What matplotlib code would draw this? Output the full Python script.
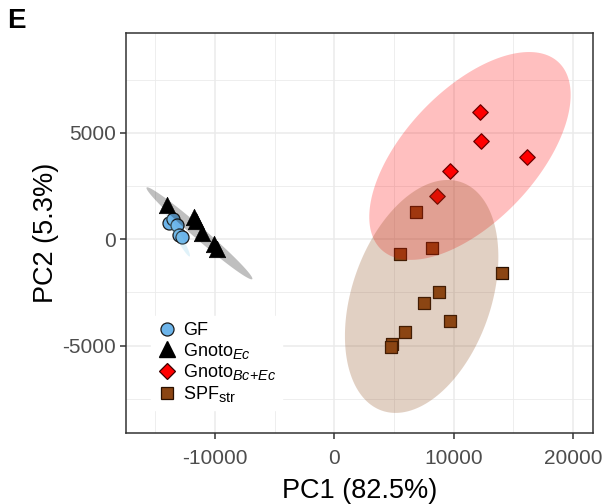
import numpy as np
import matplotlib
matplotlib.use("Agg")
import matplotlib.pyplot as plt
import matplotlib._mathtext as mt
from matplotlib.lines import Line2D

plt.rcParams['font.family'] = ['Liberation Sans', 'DejaVu Sans']
plt.rcParams['mathtext.fontset'] = 'custom'
plt.rcParams['mathtext.rm'] = 'Liberation Sans'
plt.rcParams['mathtext.it'] = 'Liberation Sans:italic'
plt.rcParams['axes.unicode_minus'] = False
mt.SHRINK_FACTOR = 0.8  # slightly bigger subscripts, closer to the original

# PCA scores
gf_x = [-13830, -13500, -13210, -12990, -12790]
gf_y = [750, 940, 670, 200, 95]

ec_x = [-14050, -11760, -11590, -11110, -10080, -9830]
ec_y = [1610, 1050, 860, 300, -220, -460]

bcec_x = [12210, 12270, 16180, 9700, 8630]
bcec_y = [6000, 4640, 3860, 3210, 2050]

spf_x = [6820, 8160, 5510, 14030, 8780, 7540, 9700, 5930, 4860, 4750]
spf_y = [1300, -420, -690, -1570, -2480, -2980, -3830, -4360, -4940, -5050]

# 95% ellipses: centre, x spread, y spread, correlation
ell_gf = (-13100, 180, 1010, 990, -0.96)
ell_ec = (-11300, 280, 4440, 2165, -0.985)
ell_bcec = (11375, 3920, 8440, 4890, 0.587)
ell_spf = (7325, -2690, 6430, 5480, 0.34)


def ellipse_xy(cx, cy, sx, sy, rho, n=200):
    t = np.linspace(0, 2 * np.pi, n)
    x = cx + sx * np.cos(t)
    y = cy + sy * (rho * np.cos(t) + np.sqrt(1 - rho ** 2) * np.sin(t))
    return x, y


fig = plt.figure(figsize=(6.02, 5.04), dpi=100)
ax = fig.add_axes([0.2088, 0.1415, 0.7757, 0.7924])

# points
ax.scatter(gf_x, gf_y, s=88, marker='o', facecolor='#6cb4ea', edgecolor='#1a1a1a', linewidth=0.9, zorder=3)
ax.scatter(ec_x, ec_y, s=140, marker='^', facecolor='black', edgecolor='black', linewidth=0.5, zorder=3)
ax.scatter(bcec_x, bcec_y, s=62, marker='D', facecolor='#ff0000', edgecolor='#3a0000', linewidth=0.9, zorder=3)
ax.scatter(spf_x, spf_y, s=78, marker='s', facecolor='#8b4513', edgecolor='#2a1000', linewidth=0.9, zorder=3)

# ellipses drawn above points, like stat_ellipse
for e, col in [(ell_gf, '#87ceeb'), (ell_ec, 'black'), (ell_bcec, '#ff0000'), (ell_spf, '#8b4513')]:
    ex, ey = ellipse_xy(*e)
    ax.fill(ex, ey, color=col, alpha=0.25, linewidth=0, zorder=4)

ax.set_xlim(-17480, 21660)
ax.set_ylim(-9100, 9690)
ax.set_xticks([-10000, 0, 10000, 20000])
ax.set_xticks([-15000, -5000, 5000, 15000], minor=True)
ax.set_yticks([-5000, 0, 5000])
ax.set_yticks([-7500, -2500, 2500, 7500], minor=True)

ax.grid(True, which='major', color='#ebebeb', linewidth=1.1, zorder=0)
ax.grid(True, which='minor', color='#ebebeb', linewidth=0.6, zorder=0)
ax.set_axisbelow(True)
for sp in ax.spines.values():
    sp.set_color('#333333')
    sp.set_linewidth(1.1)

ax.tick_params(axis='both', which='major', length=4, width=1.1, color='#333333',
               labelsize=15, labelcolor='#4d4d4d', pad=3)
ax.tick_params(axis='x', which='major', pad=8)
ax.tick_params(axis='both', which='minor', length=0)

ax.set_xlabel('PC1 (82.5%)', fontsize=19.5, labelpad=7)
ax.set_ylabel('PC2 (5.3%)', fontsize=19.5, labelpad=2)

fig.text(0.012, 0.985, 'E', fontsize=20, fontweight='bold', va='top', ha='left')

handles = [
    Line2D([], [], linestyle='', marker='o', markersize=9.4, markerfacecolor='#6cb4ea', markeredgecolor='#1a1a1a', markeredgewidth=0.9),
    Line2D([], [], linestyle='', marker='^', markersize=11.8, markerfacecolor='black', markeredgecolor='black'),
    Line2D([], [], linestyle='', marker='D', markersize=7.9, markerfacecolor='#ff0000', markeredgecolor='#3a0000', markeredgewidth=0.9),
    Line2D([], [], linestyle='', marker='s', markersize=8.8, markerfacecolor='#8b4513', markeredgecolor='#2a1000', markeredgewidth=0.9),
]
labels = ['GF', r'Gnoto$_{\mathit{Ec}}$', r'Gnoto$_{\mathit{Bc{+}Ec}}$', r'SPF$_{\mathrm{str}}$']
leg = ax.legend(handles, labels, loc='lower left', bbox_to_anchor=(0.034, 0.035), fontsize=13,
                frameon=True, fancybox=False, framealpha=1, edgecolor='white',
                handletextpad=0.3, labelspacing=0.1, borderpad=0.3, handlelength=1.2)
leg.set_zorder(5)

fig.savefig('out.png', dpi=100)
